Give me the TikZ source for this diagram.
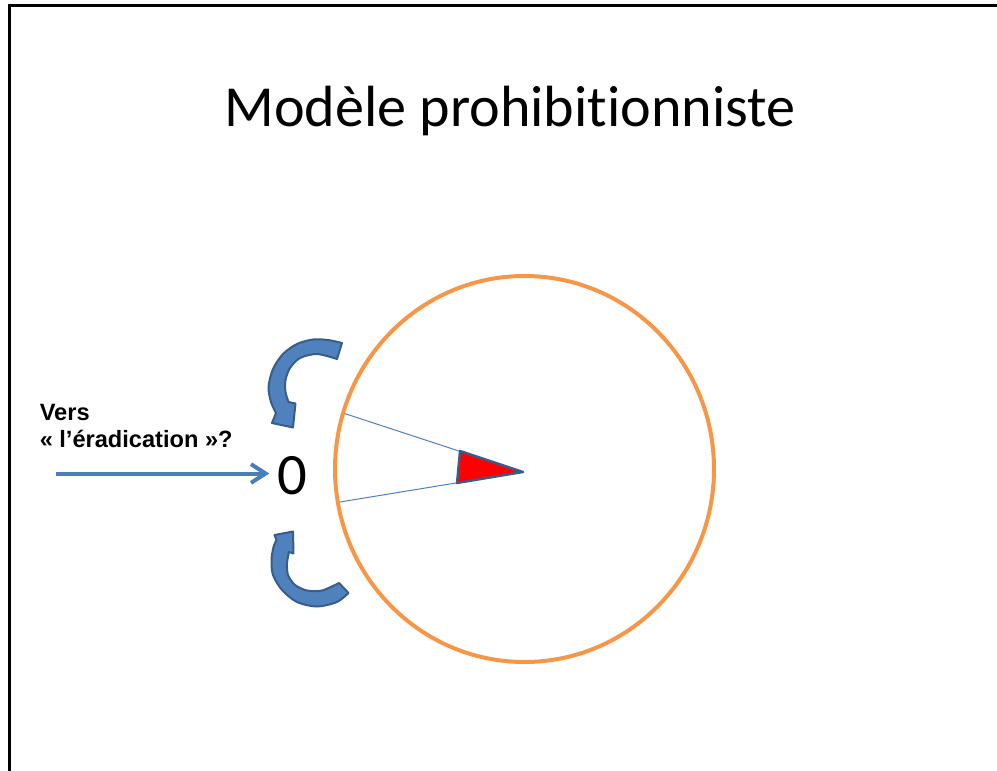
\documentclass[tikz,border=0pt]{standalone}
\usepackage{fontspec}
\setmainfont{Carlito}[Ligatures={NoCommon}]
\newfontfamily\labelfont{Liberation Sans}
\usetikzlibrary{arrows.meta}
\definecolor{accentblue}{HTML}{4F81BD}
\definecolor{edgeblue}{HTML}{385D8A}
\definecolor{ringorange}{HTML}{F79646}
\definecolor{linkblue}{HTML}{4A7EBB}
\begin{document}
\begin{tikzpicture}[x=0.75pt,y=-0.75pt,
  frame/.style={draw=black,line width=1.6pt},
  ring/.style={draw=ringorange,line width=3pt},
  spoke/.style={draw=accentblue,line width=0.75pt},
  wedge/.style={fill=red,draw=edgeblue,line width=1.8pt,line join=round},
  turn/.style={fill=accentblue,draw=edgeblue,line width=1.5pt,line join=round},
  pointer/.style={draw=linkblue,line width=3pt,
    -{Straight Barb[length=11pt,width=14pt]}, shorten >=6pt},
  heading/.style={font=\fontsize{43.6}{52}\selectfont, anchor=base, inner sep=0pt},
  digit/.style={font=\fontsize{44}{52}\selectfont, anchor=base, inner sep=0pt},
  caption/.style={font=\labelfont\bfseries\fontsize{17.7}{20}\selectfont,
    anchor=base west, inner sep=0pt}]
% page area
\path[use as bounding box] (0,0) rectangle (997,771);
% slide frame running off the page at right and bottom
\draw[frame] (9.5,771) -- (9.5,5.5) -- (997,5.5);

% title
\node[heading] (title) at (510,126) {Modèle prohibitionniste};

% left labels
\node[caption] (vers) at (39.5,420) {Vers};
\node[caption] (erad) at (39.5,447) {« l’éradication »?};
\node[digit] (zero) at (292.5,494) {0};

% horizontal pointer into the zero
\coordinate (tail) at (56,473.5);
\draw[pointer] (tail) -- (tail -| zero.west);

% ring with a sector opening towards the left
\coordinate (ringc) at (524.5,469);
\coordinate (hub) at (523,472);
\coordinate (rimA) at (343,413);
\coordinate (rimB) at (340,502);
\draw[spoke] (rimA) -- (hub);
\draw[spoke] (rimB) -- (hub);
\draw[ring] (ringc) ellipse [x radius=189.5, y radius=193];
\filldraw[wedge] (460,451) -- (457,483) -- (hub) -- cycle;

% upper curved block arrow (turning down towards the zero)
\filldraw[turn]
  plot[smooth] coordinates {(342,343) (328,340) (313,339.5) (297,344) (283,354)
                            (273,369) (268.5,387) (271,402) (276,413)}
  -- (272,423) -- (293,427.5) -- (295.5,403.5)
  -- plot[smooth] coordinates {(288.5,402) (285.5,392) (285.5,380) (290,368)
                               (300,358) (317,354) (337,359)}
  -- cycle;

% lower curved block arrow (turning up towards the zero)
\filldraw[turn]
  plot[smooth] coordinates {(348.5,593) (337,602) (317,606.5) (297,602) (282,590)
                            (273,575) (271.5,560) (273.5,547) (276.5,540)}
  -- (274.5,535) -- (293,531.5) -- (293.5,553.5)
  -- plot[smooth] coordinates {(289,552) (287,563) (288,575) (295,585)
                               (307,590.5) (322,590.5) (339,583)}
  -- cycle;
\end{tikzpicture}
\end{document}
